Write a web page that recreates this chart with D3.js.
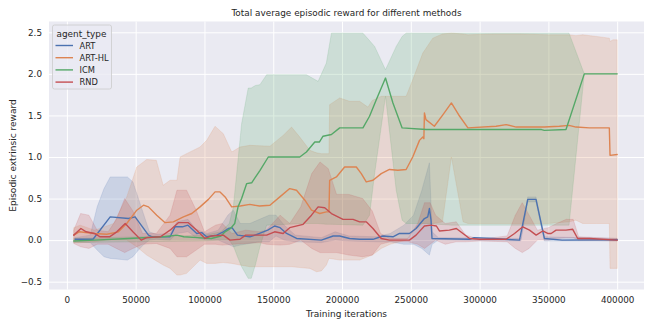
<!DOCTYPE html>
<html>
<head>
<meta charset="utf-8">
<script src="https://cdn.jsdelivr.net/npm/d3@7"></script>
<style>
  html, body { margin: 0; padding: 0; background: #ffffff; }
  svg { display: block; font-family: "DejaVu Sans", sans-serif; }
</style>
</head>
<body>
<svg id="chart" width="654" height="327"></svg>
<script>
// ---------------- DATA ----------------
const categories = ["ART", "ART-HL", "ICM", "RND"];
const xTicks = [0, 50000, 100000, 150000, 200000, 250000, 300000, 350000, 400000];
const yTicks = [-0.5, 0.0, 0.5, 1.0, 1.5, 2.0, 2.5];

// ART
const artLineX = [6000, 19000, 31500, 44800, 49600, 59300, 62000, 75000, 78600, 84000, 88000, 94400, 98000, 101600, 108900, 113700, 117400, 120000, 124000, 133000, 140000, 146000, 151000, 155000, 159700, 167000, 185000, 193500, 198300, 205500, 212800, 222500, 229700, 237000, 241800, 249000, 253800, 259900, 262300, 263500, 264700, 265400, 292700, 296000, 310000, 318000, 329000, 335000, 341000, 347100, 360000, 400000];
const artLineY = [0.01, 0.01, 0.28, 0.26, 0.28, 0.06, 0.04, 0.04, 0.16, 0.16, 0.18, 0.08, 0.09, 0.04, 0.06, 0.10, 0.14, 0.15, 0.06, 0.04, 0.08, 0.12, 0.17, 0.15, 0.08, 0.02, 0.00, 0.05, 0.05, 0.02, 0.01, 0.01, 0.05, 0.04, 0.08, 0.08, 0.14, 0.26, 0.28, 0.38, 0.24, 0.02, 0.01, 0.03, 0.02, 0.01, 0.00, 0.49, 0.49, 0.02, 0.00, 0.005];
const artBandX  = [6000, 17000, 22000, 27000, 31500, 44000, 48000, 52000, 56000, 60000, 65000, 75000, 80000, 88000, 94000, 102000, 110000, 117000, 121000, 126000, 133000, 140000, 147000, 152000, 158000, 166000, 185000, 195000, 205000, 225000, 235000, 245000, 252000, 258000, 263500, 265500, 270000, 330000, 335000, 341000, 347000, 400000];
const artBandLo = [-0.02, -0.03, -0.12, -0.20, -0.22, -0.24, -0.20, -0.12, -0.05, 0.00, 0.01, 0.00, 0.08, 0.10, 0.03, 0.00, 0.00, -0.05, -0.08, -0.06, -0.04, -0.02, -0.02, 0.05, 0.00, -0.02, -0.03, 0.00, -0.01, -0.02, -0.02, -0.05, -0.05, -0.10, -0.18, -0.05, 0.00, -0.01, 0.46, 0.46, -0.01, -0.01];
const artBandHi = [0.03, 0.06, 0.40, 0.62, 0.76, 0.76, 0.70, 0.50, 0.30, 0.10, 0.07, 0.08, 0.22, 0.25, 0.13, 0.08, 0.12, 0.30, 0.36, 0.20, 0.20, 0.25, 0.30, 0.30, 0.18, 0.06, 0.03, 0.10, 0.05, 0.04, 0.08, 0.18, 0.30, 0.60, 0.93, 0.10, 0.03, 0.02, 0.52, 0.52, 0.04, 0.02];

// ART-HL
const arthlLineX = [5000, 9000, 20000, 29000, 37500, 43500, 50800, 55700, 59300, 65300, 71400, 77400, 84700, 90800, 96800, 102900, 107700, 111300, 115000, 119800, 126000, 133000, 140000, 147600, 154800, 162000, 166900, 173000, 177800, 183800, 188600, 190500, 191000, 195900, 201900, 210400, 214000, 217600, 222500, 228500, 234500, 240600, 246600, 251400, 256300, 258700, 259500, 259900, 261000, 267100, 273400, 279500, 285500, 291500, 312000, 319300, 326600, 347100, 358000, 365000, 370100, 379800, 394300, 394800, 400000];
const arthlLineY = [0.06, 0.10, 0.08, 0.07, 0.10, 0.20, 0.36, 0.42, 0.40, 0.30, 0.21, 0.22, 0.28, 0.32, 0.40, 0.49, 0.58, 0.58, 0.52, 0.40, 0.41, 0.43, 0.41, 0.42, 0.52, 0.62, 0.60, 0.48, 0.36, 0.32, 0.34, 0.34, 0.72, 0.76, 0.88, 0.88, 0.80, 0.70, 0.72, 0.80, 0.85, 0.84, 0.85, 1.00, 1.20, 1.24, 1.22, 1.53, 1.45, 1.37, 1.51, 1.65, 1.49, 1.35, 1.37, 1.39, 1.36, 1.36, 1.37, 1.38, 1.36, 1.35, 1.35, 1.02, 1.03];
const arthlBandX  = [5000, 9700, 20000, 29000, 34000, 43500, 50800, 58000, 65000, 70000, 75000, 80000, 82300, 87000, 96800, 101600, 107700, 113700, 119800, 125800, 133000, 147600, 157200, 163300, 169300, 176600, 181400, 185000, 188600, 190500, 191000, 198300, 205500, 212800, 218800, 222000, 228500, 235000, 246600, 251400, 258700, 266000, 273000, 279500, 288000, 291500, 310000, 330000, 350000, 365000, 370000, 375000, 385000, 394300, 394800, 397000, 400000];
const arthlBandLo = [-0.03, -0.03, -0.02, 0.00, 0.00, 0.00, -0.08, -0.18, -0.25, -0.30, -0.34, -0.42, -0.42, -0.40, -0.24, -0.28, -0.28, -0.27, -0.28, -0.30, -0.32, -0.32, -0.32, -0.32, -0.33, -0.34, -0.38, -0.37, -0.30, -0.22, -0.22, -0.24, -0.24, -0.24, -0.20, -0.18, -0.10, -0.05, 0.00, 0.10, 0.20, 0.20, 0.22, 1.00, 0.22, 0.20, 0.20, 0.20, 0.20, 0.22, 0.24, 0.20, 0.20, 0.20, -0.34, -0.34, -0.34];
const arthlBandHi = [0.15, 0.18, 0.12, 0.17, 0.20, 0.52, 0.88, 0.97, 0.96, 0.66, 0.72, 0.72, 1.00, 1.04, 1.12, 1.20, 1.37, 1.28, 1.06, 1.12, 1.14, 1.13, 1.26, 1.36, 1.24, 1.08, 1.05, 1.04, 1.04, 1.04, 1.63, 1.71, 1.67, 1.67, 1.60, 1.68, 1.73, 1.73, 1.73, 1.93, 2.25, 2.43, 2.48, 2.49, 2.48, 2.47, 2.48, 2.48, 2.47, 2.47, 2.46, 2.47, 2.45, 2.43, 2.39, 2.41, 2.41];

// ICM
const icmLineX = [5000, 20000, 45000, 70000, 80000, 85000, 95000, 105000, 112000, 115000, 119000, 122000, 124400, 127000, 130700, 134300, 140400, 146400, 169300, 174100, 180200, 183500, 186200, 192300, 198300, 215200, 220000, 224900, 231600, 237000, 243700, 261100, 275800, 345000, 347000, 362800, 376100, 400000];
const icmLineY = [-0.01, 0.00, 0.02, 0.04, 0.06, 0.04, 0.03, 0.02, 0.05, 0.10, 0.14, 0.20, 0.40, 0.50, 0.68, 0.69, 0.84, 1.00, 1.00, 1.06, 1.18, 1.18, 1.25, 1.27, 1.35, 1.35, 1.49, 1.69, 1.95, 1.65, 1.35, 1.33, 1.33, 1.33, 1.32, 1.33, 2.00, 2.00];
const icmBandX  = [5000, 100000, 112000, 118000, 121000, 124000, 127000, 131800, 134000, 137000, 140300, 145200, 174100, 182600, 188600, 192300, 215200, 220000, 223700, 231600, 239400, 243700, 246600, 260000, 280000, 365000, 376100, 400000];
const icmBandLo = [-0.03, -0.01, 0.00, 0.00, -0.07, -0.20, -0.32, -0.46, -0.46, -0.30, -0.08, 0.18, 0.20, 0.20, 0.19, 0.19, 0.18, 0.30, 0.80, 1.73, 0.60, 0.24, 0.20, 0.20, 0.18, 0.18, 2.00, 2.00];
const icmBandHi = [0.02, 0.06, 0.10, 0.20, 0.40, 0.90, 1.40, 1.83, 1.83, 1.86, 1.87, 1.99, 1.99, 1.91, 2.13, 2.49, 2.49, 2.40, 2.33, 2.05, 2.33, 2.45, 2.49, 2.49, 2.49, 2.49, 2.00, 2.00];

// RND
const rndLineX = [5000, 10200, 14000, 20000, 24200, 31000, 36300, 42400, 48000, 54000, 58000, 68000, 75000, 81000, 88300, 94400, 100400, 105000, 113700, 118600, 125800, 130000, 140000, 145200, 151000, 157200, 162000, 171700, 177800, 182600, 187400, 192300, 200700, 208000, 212800, 217600, 222500, 228500, 234500, 249000, 253800, 259900, 264700, 268600, 270800, 278000, 283100, 287900, 292700, 300000, 319300, 325400, 331400, 336300, 341100, 345900, 349500, 352000, 355600, 362800, 367700, 371300, 380000, 400000];
const rndLineY = [0.06, 0.14, 0.10, 0.08, 0.04, 0.04, 0.10, 0.20, 0.10, 0.00, 0.03, 0.04, 0.12, 0.21, 0.21, 0.12, 0.02, 0.05, 0.06, 0.00, 0.01, 0.06, 0.06, 0.06, 0.10, 0.08, 0.15, 0.19, 0.30, 0.40, 0.39, 0.32, 0.25, 0.25, 0.22, 0.22, 0.14, 0.02, 0.00, 0.00, 0.06, 0.17, 0.18, 0.17, 0.11, 0.12, 0.14, 0.08, 0.02, 0.01, 0.01, 0.08, 0.16, 0.12, 0.06, 0.11, 0.08, 0.08, 0.12, 0.12, 0.13, 0.02, 0.02, 0.00];
const rndBandX  = [5000, 10000, 16000, 22000, 30000, 36000, 42000, 48000, 55000, 65000, 75000, 80000, 87000, 94000, 100000, 108000, 113000, 120000, 130000, 140000, 145000, 155000, 162000, 170000, 178000, 184000, 190000, 196000, 205000, 215000, 222000, 228000, 235000, 248000, 255000, 260000, 264000, 268000, 275000, 283000, 290000, 300000, 320000, 326000, 331000, 336000, 342000, 350000, 356000, 363000, 368000, 372000, 400000];
const rndBandLo = [-0.04, -0.08, -0.10, -0.05, -0.05, -0.10, -0.15, -0.10, -0.05, -0.04, -0.10, -0.20, -0.20, -0.12, -0.05, -0.05, -0.06, -0.05, -0.04, -0.03, -0.05, -0.06, -0.05, 0.00, -0.10, -0.15, -0.15, -0.15, -0.18, -0.20, -0.18, -0.05, -0.02, -0.02, -0.05, -0.10, -0.05, 0.00, -0.05, -0.02, -0.02, -0.01, -0.02, -0.10, -0.15, -0.10, 0.00, 0.00, 0.02, 0.03, 0.03, 0.00, -0.01];
const rndBandHi = [0.12, 0.32, 0.30, 0.12, 0.10, 0.25, 0.50, 0.35, 0.08, 0.08, 0.30, 0.60, 0.60, 0.36, 0.10, 0.18, 0.20, 0.08, 0.12, 0.10, 0.12, 0.30, 0.20, 0.40, 0.80, 0.94, 0.86, 0.55, 0.55, 0.50, 0.35, 0.08, 0.02, 0.02, 0.20, 0.45, 0.45, 0.30, 0.20, 0.22, 0.06, 0.01, 0.05, 0.30, 0.45, 0.30, 0.12, 0.15, 0.20, 0.25, 0.25, 0.04, 0.02];

const colors = ["#4C72B0", "#DD8452", "#55A868", "#C44E52"];

// ---------------- CHART ----------------
const svg = d3.select("#chart");
const W = 654, H = 327;
const plot = { left: 49, top: 21.5, right: 644, bottom: 289.5 };

const x = d3.scaleLinear().domain([-13000, 419500]).range([plot.left, plot.right]);
const y = d3.scaleLinear().domain([-0.594, 2.63]).range([plot.bottom, plot.top]);

svg.append("rect").attr("width", W).attr("height", H).attr("fill", "#ffffff");
svg.append("rect")
  .attr("x", plot.left).attr("y", plot.top)
  .attr("width", plot.right - plot.left).attr("height", plot.bottom - plot.top)
  .attr("fill", "#EAEAF2");

// grid via axes
const gx = svg.append("g").attr("transform", `translate(0,${plot.bottom})`)
  .call(d3.axisBottom(x).tickValues(xTicks).tickFormat(d3.format("d")).tickSize(-(plot.bottom - plot.top)).tickPadding(7));
const gy = svg.append("g").attr("transform", `translate(${plot.left},0)`)
  .call(d3.axisLeft(y).tickValues(yTicks).tickFormat(d3.format(".1f")).tickSize(-(plot.right - plot.left)).tickPadding(7));
[gx, gy].forEach(g => {
  g.select(".domain").remove();
  g.selectAll(".tick line").attr("stroke", "#ffffff").attr("stroke-width", 1);
  g.selectAll(".tick text").attr("fill", "#262626").attr("font-size", "8.8px").attr("font-family", "DejaVu Sans");
});

svg.append("clipPath").attr("id", "clip").append("rect")
  .attr("x", plot.left).attr("y", plot.top)
  .attr("width", plot.right - plot.left).attr("height", plot.bottom - plot.top);

const series = [
  { name: categories[0], lx: artLineX, ly: artLineY, bx: artBandX, lo: artBandLo, hi: artBandHi },
  { name: categories[1], lx: arthlLineX, ly: arthlLineY, bx: arthlBandX, lo: arthlBandLo, hi: arthlBandHi },
  { name: categories[2], lx: icmLineX, ly: icmLineY, bx: icmBandX, lo: icmBandLo, hi: icmBandHi },
  { name: categories[3], lx: rndLineX, ly: rndLineY, bx: rndBandX, lo: rndBandLo, hi: rndBandHi }
];

const gData = svg.append("g").attr("clip-path", "url(#clip)");
const area = d3.area().x(d => x(d[0])).y0(d => y(d[1])).y1(d => y(d[2]));
const line = d3.line().x(d => x(d[0])).y(d => y(d[1]));

series.forEach((s, i) => {
  const pts = s.bx.map((v, j) => [v, s.lo[j], s.hi[j]]);
  gData.append("path").attr("d", area(pts))
    .attr("fill", colors[i]).attr("fill-opacity", 0.2)
    .attr("stroke", colors[i]).attr("stroke-opacity", 0.2).attr("stroke-width", 0.8);
});
series.forEach((s, i) => {
  const pts = s.lx.map((v, j) => [v, s.ly[j]]);
  gData.append("path").attr("d", line(pts))
    .attr("fill", "none").attr("stroke", colors[i]).attr("stroke-width", 1.4)
    .attr("stroke-linejoin", "round").attr("stroke-linecap", "round");
});

// title and axis labels
svg.append("text").attr("x", (plot.left + plot.right) / 2).attr("y", 15.5)
  .attr("text-anchor", "middle").attr("font-size", "8.9px").attr("fill", "#262626")
  .text("Total average episodic reward for different methods");
svg.append("text").attr("x", (plot.left + plot.right) / 2).attr("y", 316.5)
  .attr("text-anchor", "middle").attr("font-size", "9px").attr("fill", "#262626")
  .text("Training iterations");
svg.append("text")
  .attr("transform", `translate(16,${(plot.top + plot.bottom) / 2}) rotate(-90)`)
  .attr("text-anchor", "middle").attr("font-size", "9px").attr("fill", "#262626")
  .text("Episodic extrinsic reward");

// legend
const lg = svg.append("g");
lg.append("rect").attr("x", 52.5).attr("y", 25).attr("width", 59).attr("height", 64).attr("rx", 2)
  .attr("fill", "#EAEAF2").attr("fill-opacity", 0.8).attr("stroke", "#cccccc").attr("stroke-width", 0.8);
lg.append("text").attr("x", 56.5).attr("y", 36.5).attr("font-size", "8.9px").attr("fill", "#262626").text("agent_type");
categories.forEach((c, i) => {
  const yy = 45.5 + i * 12.2;
  lg.append("line").attr("x1", 55.5).attr("x2", 73).attr("y1", yy).attr("y2", yy)
    .attr("stroke", colors[i]).attr("stroke-width", 1.4);
  lg.append("text").attr("x", 79.5).attr("y", yy + 3).attr("font-size", "8.3px").attr("fill", "#262626").text(c);
});
</script>
</body>
</html>
